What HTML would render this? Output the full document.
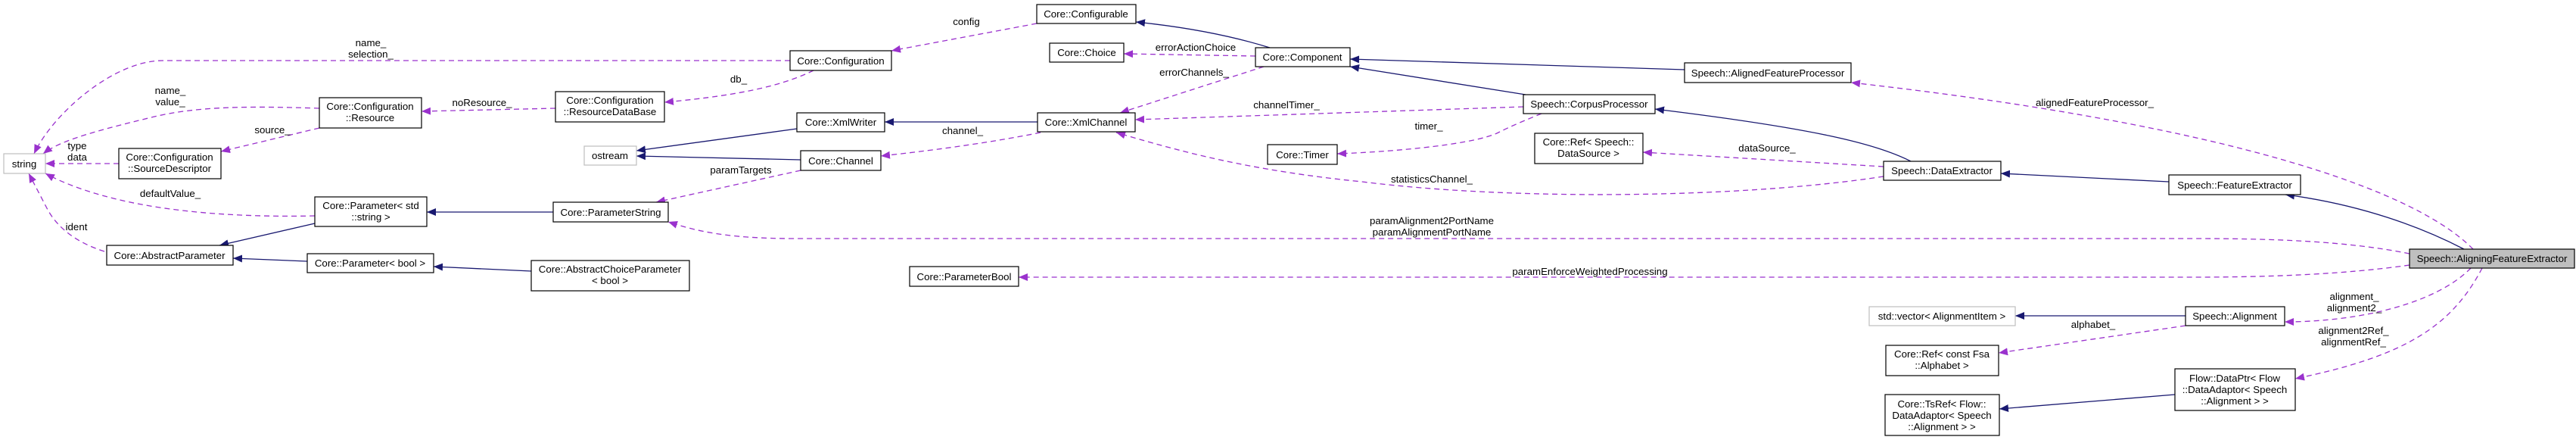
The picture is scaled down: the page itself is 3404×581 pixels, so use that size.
<!DOCTYPE html>
<html><head><meta charset="utf-8"><style>
html,body{margin:0;padding:0;background:#fff}
svg{display:block}
text{font-family:"Liberation Sans",sans-serif;font-size:13.3px;fill:#000}
.n{fill:#fff;stroke:#000;stroke-width:1.2}
.g{fill:#fff;stroke:#bfbfbf;stroke-width:1.2}
.d{fill:none;stroke:#9a32cd;stroke-width:1.3;stroke-dasharray:7,5}
.s{fill:none;stroke:#191970;stroke-width:1.3}
</style></head><body>
<svg width="3404" height="581" viewBox="0 0 3404 581" xmlns="http://www.w3.org/2000/svg">
<defs>
<marker id="ap" markerUnits="userSpaceOnUse" markerWidth="14" markerHeight="12" refX="12" refY="5" orient="auto"><path d="M0,0 L12,5 L0,10 z" fill="#9a32cd"/></marker>
<marker id="an" markerUnits="userSpaceOnUse" markerWidth="14" markerHeight="12" refX="12" refY="5" orient="auto"><path d="M0,0 L12,5 L0,10 z" fill="#191970"/></marker>
</defs>

<!-- dashed purple edges -->
<g class="d" marker-end="url(#ap)">
<path d="M1044,80 L215,80 C150,80 70,150 45,203"/>
<path d="M422,143 C330,140 260,140 200,155 C130,172 80,185 57,203"/>
<path d="M422,169 L292,200"/>
<path d="M157,216 L60,216"/>
<path d="M734,143 L557,147"/>
<path d="M416,285 C330,287 230,282 150,262 C110,252 80,240 60,229"/>
<path d="M138,332 C100,320 75,300 62,275 L38,229"/>
<path d="M1370,31 L1178,67"/>
<path d="M1075,93 C1040,110 990,125 878,135"/>
<path d="M1375,175 C1300,190 1220,200 1164,206"/>
<path d="M1058,225 L867,267"/>
<path d="M1659,74 L1485,71"/>
<path d="M1670,88 L1480,149"/>
<path d="M2013,141 L1500,158"/>
<path d="M2489,233 C2300,262 2000,265 1800,240 C1650,225 1560,200 1475,175"/>
<path d="M2037,150 C2000,165 1990,170 1980,175 C1950,190 1850,200 1767,203"/>
<path d="M2489,220 L2171,201"/>
<path d="M3184,335 C3100,318 3000,315 2900,315 L1050,315 C960,315 920,305 883,293"/>
<path d="M3184,350 C3100,362 3000,366 2900,366 L1346,366"/>
<path d="M3268,329 C3180,240 2900,160 2446,109"/>
<path d="M3265,354 C3220,400 3120,425 3019,425"/>
<path d="M3280,354 C3240,430 3180,470 3033,500"/>
<path d="M2888,430 L2641,466"/>
</g>

<!-- solid navy edges -->
<g class="s" marker-end="url(#an)">
<path d="M416,295 L290,324"/>
<path d="M406,345 L308,341"/>
<path d="M702,358 L573,352"/>
<path d="M731,280 L564,280"/>
<path d="M1053,170 L841,199"/>
<path d="M1058,211 L841,206"/>
<path d="M1371,161 L1169,161"/>
<path d="M1678,63 C1620,45 1560,35 1501,29"/>
<path d="M2016,125 L1784,88"/>
<path d="M2226,92 L1784,78"/>
<path d="M2525,213 C2480,190 2400,170 2187,144"/>
<path d="M2866,240 L2644,229"/>
<path d="M3256,329 C3200,300 3120,270 3020,257"/>
<path d="M2888,417 L2663,417"/>
<path d="M2874,521 L2642,540"/>
</g>

<!-- edge labels -->
<g text-anchor="middle">
<text x="490" y="61">name_</text><text x="490" y="76">selection_</text>
<text x="225" y="124">name_</text><text x="225" y="139">value_</text>
<text x="360" y="176">source_</text>
<text x="102" y="197">type</text><text x="102" y="212">data</text>
<text x="637" y="140">noResource_</text>
<text x="225" y="260">defaultValue_</text>
<text x="101" y="304">ident</text>
<text x="1277" y="33">config</text>
<text x="976" y="109">db_</text>
<text x="1272" y="177">channel_</text>
<text x="979" y="229">paramTargets</text>
<text x="1580" y="67">errorActionChoice</text>
<text x="1578" y="100">errorChannels_</text>
<text x="1700" y="143">channelTimer_</text>
<text x="1892" y="241">statisticsChannel_</text>
<text x="1888" y="171">timer_</text>
<text x="2335" y="200">dataSource_</text>
<text x="1892" y="296">paramAlignment2PortName</text>
<text x="1892" y="311">paramAlignmentPortName</text>
<text x="2101" y="363">paramEnforceWeightedProcessing</text>
<text x="2768" y="140">alignedFeatureProcessor_</text>
<text x="3111" y="396">alignment_</text><text x="3111" y="411">alignment2_</text>
<text x="3110" y="441">alignment2Ref_</text><text x="3110" y="456">alignmentRef_</text>
<text x="2766" y="433">alphabet_</text>
</g>

<!-- nodes -->
<rect class="g" x="5" y="203" width="55" height="26"/>
<rect class="n" x="422" y="129" width="135" height="40"/>
<rect class="n" x="157" y="196" width="135" height="40"/>
<rect class="n" x="734" y="121" width="144" height="40"/>
<rect class="g" x="772" y="193" width="69" height="25"/>
<rect class="n" x="416" y="260" width="148" height="39"/>
<rect class="n" x="731" y="267" width="152" height="26"/>
<rect class="n" x="141" y="324" width="167" height="26"/>
<rect class="n" x="406" y="335" width="167" height="25"/>
<rect class="n" x="702" y="344" width="209" height="40"/>
<rect class="n" x="1202" y="352" width="144" height="26"/>
<rect class="n" x="1370" y="6" width="131" height="25"/>
<rect class="n" x="1387" y="57" width="98" height="25"/>
<rect class="n" x="1659" y="63" width="125" height="25"/>
<rect class="n" x="1044" y="67" width="134" height="26"/>
<rect class="n" x="1053" y="149" width="116" height="25"/>
<rect class="n" x="1371" y="149" width="129" height="25"/>
<rect class="n" x="1058" y="199" width="106" height="26"/>
<rect class="n" x="1675" y="191" width="92" height="26"/>
<rect class="n" x="2226" y="83" width="220" height="26"/>
<rect class="n" x="2013" y="125" width="174" height="25"/>
<rect class="n" x="2028" y="176" width="143" height="40"/>
<rect class="n" x="2489" y="213" width="155" height="25"/>
<rect class="n" x="2866" y="231" width="174" height="26"/>
<rect x="3184" y="329" width="218" height="25" fill="#bfbfbf" stroke="#000" stroke-width="1.2"/>
<rect class="n" x="2888" y="405" width="131" height="25"/>
<rect class="g" x="2470" y="405" width="193" height="25"/>
<rect class="n" x="2492" y="456" width="149" height="40"/>
<rect class="n" x="2874" y="487" width="159" height="55"/>
<rect class="n" x="2491" y="521" width="151" height="54"/>

<g text-anchor="middle">
<text x="32" y="221">string</text>
<text x="489" y="145">Core::Configuration</text><text x="489" y="160">::Resource</text>
<text x="224" y="212">Core::Configuration</text><text x="224" y="227">::SourceDescriptor</text>
<text x="806" y="137">Core::Configuration</text><text x="806" y="152">::ResourceDataBase</text>
<text x="806" y="210">ostream</text>
<text x="490" y="276">Core::Parameter&lt; std</text><text x="490" y="291">::string &gt;</text>
<text x="807" y="285">Core::ParameterString</text>
<text x="224" y="342">Core::AbstractParameter</text>
<text x="489" y="352">Core::Parameter&lt; bool &gt;</text>
<text x="806" y="360">Core::AbstractChoiceParameter</text><text x="806" y="375">&lt; bool &gt;</text>
<text x="1274" y="370">Core::ParameterBool</text>
<text x="1435" y="23">Core::Configurable</text>
<text x="1436" y="74">Core::Choice</text>
<text x="1721" y="80">Core::Component</text>
<text x="1111" y="85">Core::Configuration</text>
<text x="1111" y="166">Core::XmlWriter</text>
<text x="1435" y="166">Core::XmlChannel</text>
<text x="1111" y="217">Core::Channel</text>
<text x="1721" y="209">Core::Timer</text>
<text x="2336" y="101">Speech::AlignedFeatureProcessor</text>
<text x="2100" y="142">Speech::CorpusProcessor</text>
<text x="2099" y="192">Core::Ref&lt; Speech::</text><text x="2099" y="207">DataSource &gt;</text>
<text x="2566" y="230">Speech::DataExtractor</text>
<text x="2953" y="249">Speech::FeatureExtractor</text>
<text x="3293" y="346">Speech::AligningFeatureExtractor</text>
<text x="2953" y="422">Speech::Alignment</text>
<text x="2566" y="422">std::vector&lt; AlignmentItem &gt;</text>
<text x="2566" y="472">Core::Ref&lt; const Fsa</text><text x="2566" y="487">::Alphabet &gt;</text>
<text x="2953" y="504">Flow::DataPtr&lt; Flow</text><text x="2953" y="519">::DataAdaptor&lt; Speech</text><text x="2953" y="534">::Alignment &gt; &gt;</text>
<text x="2566" y="538">Core::TsRef&lt; Flow::</text><text x="2566" y="553">DataAdaptor&lt; Speech</text><text x="2566" y="568">::Alignment &gt; &gt;</text>
</g>
</svg>
</body></html>
